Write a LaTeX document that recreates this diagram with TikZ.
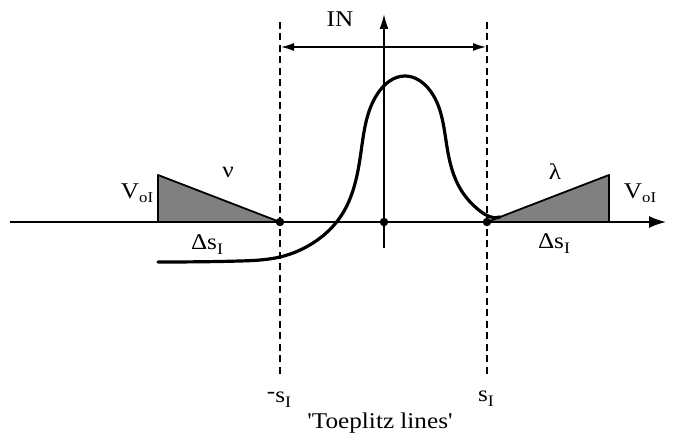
\documentclass[tikz,border=0pt]{standalone}
\usepackage{fontspec}
\setmainfont{Liberation Serif}[FakeStretch=1.12]
\newfontfamily\rawfont{Liberation Serif}[FakeStretch=1.12, Ligatures=TeXOff]
\usetikzlibrary{arrows.meta,hobby}
\newcommand{\lsub}[1]{\raisebox{-5pt}{\fontsize{16}{16}\selectfont #1}}
\newcommand{\osub}[1]{\raisebox{-4pt}{\fontsize{15}{15}\selectfont #1}}
\begin{document}
\begin{tikzpicture}[x=1pt,y=-1pt,
  lbl/.style={font=\fontsize{22.5}{25}\selectfont, inner sep=0pt},
  axisline/.style={line width=1.7pt},
  tline/.style={line width=1.3pt, dash pattern=on 7pt off 4.5pt},
  wedge/.style={fill=black!50, draw=black, line width=1.8pt, line join=round},
  curveline/.style={line width=3.2pt, line cap=round, line join=round},
  dot/.style={circle, fill=black, inner sep=0pt, minimum size=8.5pt}]
\useasboundingbox (0,0) rectangle (678,438);
% coordinates
\coordinate (axL) at (10,222);
\coordinate (axR) at (666,222);
\coordinate (vB) at (384,248);
\coordinate (vT) at (384,14);
\coordinate (tlT) at (280,22);
\coordinate (tlB) at (280,378);
\coordinate (trT) at (487,22);
\coordinate (trB) at (487,378);
% shaded wedges
\draw[wedge] (280,222) -- (158,175) -- (158,222) -- cycle;
\draw[wedge] (487,222) -- (609,175) -- (609,222) -- cycle;
% axes
\draw[axisline, -{Latex[length=17pt,width=12pt]}] (axL) -- (axR);
\draw[axisline, -{Latex[length=15pt,width=9pt]}] (vB) -- (vT);
% Toeplitz lines
\draw[tline] (tlT) -- (tlB);
\draw[tline] (trT) -- (trB);
% IN arrow
\coordinate (inL) at (281,47);
\coordinate (inR) at (486,47);
\draw[line width=1.3pt, {Latex[length=13pt,width=8pt]}-{Latex[length=13pt,width=8pt]}] (inL) -- (inR);
\node[lbl] (IN) at (340,19) {IN};
% dots
\node[dot] (dL) at (280,222) {};
\node[dot] (d0) at (384,222) {};
\node[dot] (dR) at (487,222) {};
% curve
\draw[curveline, use Hobby shortcut]
 ([out angle=0]158,262) .. (240,261) .. (280,257) .. (313,243) .. (341,216) .. (361,152)
 .. (378,93) .. (405,76) .. (428,88) .. (447,147) .. (461,190) .. (480,211) .. ([in angle=200]500,217);
% labels
\node[lbl] (VL) at (137,193) {V\osub{oI}};
\node[lbl] (VR) at (640,193) {V\osub{oI}};
\node[lbl] (nu) at (228,172) {ν};
\node[lbl] (la) at (555,172) {λ};
\node[lbl] (dsL) at (207,245) {Δs\lsub{I}};
\node[lbl] (dsR) at (554,244) {Δs\lsub{I}};
\node[lbl] (msI) at (279,400) {\raisebox{4pt}{-}s\lsub{I}};
\node[lbl] (sI) at (486,399) {s\lsub{I}};
\node[lbl] (TL) at (380,423) {\rawfont 'Toeplitz lines'};
\end{tikzpicture}
\end{document}
